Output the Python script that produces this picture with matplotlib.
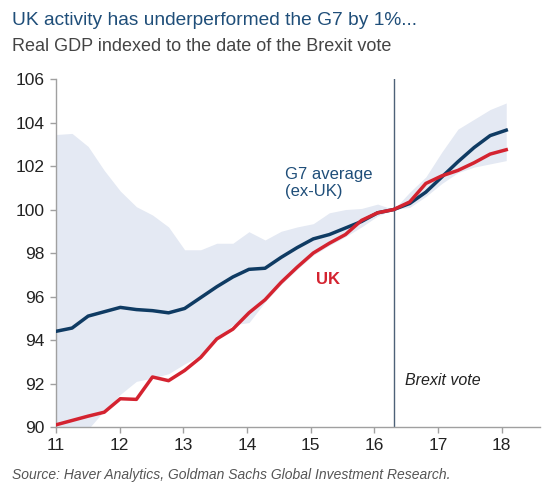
import numpy as np
import matplotlib
matplotlib.use("Agg")
import matplotlib.pyplot as plt

plt.rcParams['font.family'] = ['Liberation Sans', 'DejaVu Sans']

# quarterly points, 2011 to early 2018 (index = 100 at the Brexit vote)
n_points = 29
start_year = 11.0
end_year = 18.07
brexit_year = 16.30

g7_avg = [94.4, 94.55, 95.1, 95.3, 95.5, 95.4, 95.35, 95.25, 95.45, 95.95,
          96.45, 96.9, 97.25, 97.3, 97.8, 98.25, 98.65, 98.85, 99.15, 99.45,
          99.85, 100.0, 100.28, 100.8, 101.5, 102.2, 102.85, 103.4, 103.65]
uk = [90.1, 90.3, 90.5, 90.68, 91.3, 91.27, 92.3, 92.13, 92.6, 93.2,
      94.05, 94.5, 95.25, 95.85, 96.65, 97.35, 98.0, 98.45, 98.85, 99.5,
      99.85, 100.0, 100.35, 101.2, 101.55, 101.8, 102.15, 102.55, 102.75]
g7_high = [103.45, 103.5, 102.9, 101.8, 100.85, 100.13, 99.75, 99.2, 98.15, 98.15,
           98.45, 98.45, 98.98, 98.6, 99.0, 99.2, 99.35, 99.85, 100.0, 100.05,
           100.25, 100.0, 100.8, 101.5, 102.65, 103.7, 104.15, 104.6, 104.9]
g7_low = [89.8, 89.8, 89.9, 90.75, 91.5, 92.1, 92.25, 92.45, 92.9, 93.3,
          94.05, 94.7, 94.8, 95.75, 96.55, 97.25, 97.9, 98.35, 98.75, 99.2,
          99.7, 100.0, 100.1, 100.6, 101.2, 101.7, 101.95, 102.1, 102.25]

year_ticks = [11, 12, 13, 14, 15, 16, 17, 18]
y_ticks = [90, 92, 94, 96, 98, 100, 102, 104, 106]

x = np.linspace(start_year, end_year, n_points)

fig = plt.figure(figsize=(5.5, 4.88), dpi=100)
ax = fig.add_axes([0.1018, 0.125, 0.88, 0.713])

ax.fill_between(x, g7_low, g7_high, color='#e4e9f3', lw=0, zorder=1)
ax.plot(x, g7_avg, color='#0f3b63', lw=2.5, zorder=3, solid_joinstyle='round')
ax.plot(x, uk, color='#d42330', lw=2.5, zorder=4, solid_joinstyle='round')
ax.axvline(brexit_year, color='#4d6178', lw=1.0, zorder=2)

ax.set_xlim(11, 18.6)
ax.set_ylim(90, 106)
ax.set_xticks(year_ticks)
ax.set_yticks(y_ticks)
ax.tick_params(axis='both', labelsize=12.5, colors='#a0a0a0', labelcolor='#222222',
               length=4, width=1, direction='out')
ax.tick_params(axis='x', pad=4)
ax.tick_params(axis='y', pad=4)
for side in ['top', 'right']:
    ax.spines[side].set_visible(False)
for side in ['left', 'bottom']:
    ax.spines[side].set_color('#a0a0a0')
    ax.spines[side].set_linewidth(1)

ax.text(14.6, 101.95, 'G7 average\n(ex-UK)', color='#1f4e79', fontsize=12,
        ha='left', va='top', linespacing=1.15)
ax.text(15.09, 96.76, 'UK', color='#d42330', fontsize=12, fontweight='bold',
        ha='left', va='center')
ax.text(16.48, 92.16, 'Brexit vote', color='#222222', fontsize=11.5, style='italic',
        ha='left', va='center')

fig.text(0.022, 0.958, 'UK activity has underperformed the G7 by 1%...',
         color='#1f4e79', fontsize=13.8, ha='left', va='center')
fig.text(0.022, 0.905, 'Real GDP indexed to the date of the Brexit vote',
         color='#444444', fontsize=13, ha='left', va='center')
fig.text(0.022, 0.027, 'Source: Haver Analytics, Goldman Sachs Global Investment Research.',
         color='#555555', fontsize=10, style='italic', ha='left', va='center')

fig.savefig('out.png', dpi=100)
